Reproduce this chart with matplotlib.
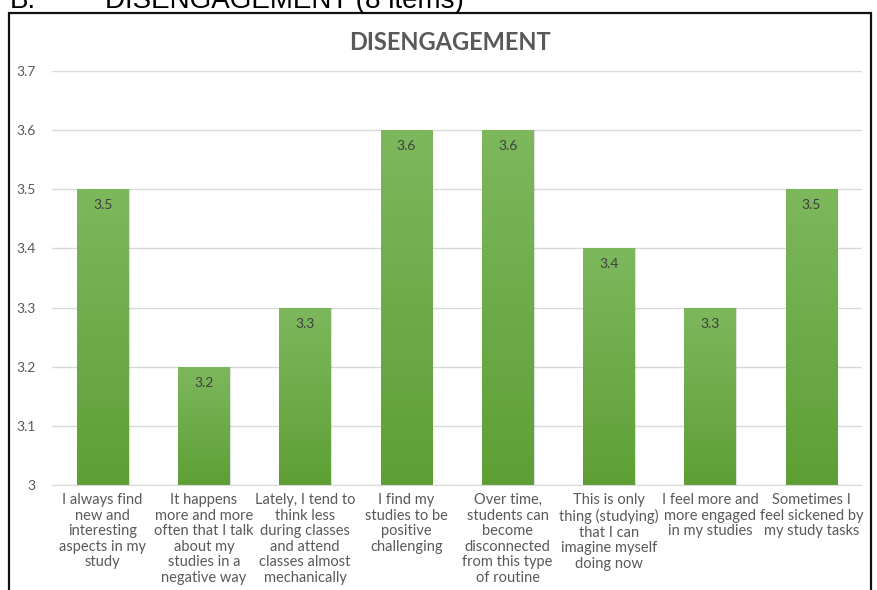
import numpy as np
import matplotlib
matplotlib.use("Agg")
import matplotlib.pyplot as plt
from matplotlib.colors import LinearSegmentedColormap
from matplotlib.patches import Rectangle

# data
categories = [
    "I always find\nnew and\ninteresting\naspects in my\nstudy",
    "It happens\nmore and more\noften that I talk\nabout my\nstudies in a\nnegative way",
    "Lately, I tend to\nthink less\nduring classes\nand attend\nclasses almost\nmechanically",
    "I find my\nstudies to be\npositive\nchallenging",
    "Over time,\nstudents can\nbecome\ndisconnected\nfrom this type\nof routine",
    "This is only\nthing (studying)\nthat I can\nimagine myself\ndoing now",
    "I feel more and\nmore engaged\nin my studies",
    "Sometimes I\nfeel sickened by\nmy study tasks",
]
values = [3.5, 3.2, 3.3, 3.6, 3.6, 3.4, 3.3, 3.5]
yticks = [3.0, 3.1, 3.2, 3.3, 3.4, 3.5, 3.6, 3.7]
ytick_labels = ["3", "3.1", "3.2", "3.3", "3.4", "3.5", "3.6", "3.7"]

plt.rcParams['font.family'] = ['Lato', 'DejaVu Sans']
grey = '#595959'

fig = plt.figure(figsize=(8.77, 5.90), dpi=100)
W, H = 877, 590

# frame round the chart
fig.patches.append(Rectangle((9 / W, -0.05), (871 - 9) / W, (H - 13) / H + 0.05,
                             transform=fig.transFigure, fill=False,
                             edgecolor='#111111', linewidth=1.6))
# header above the frame, cut by the top edge as in the source
fig.text(10 / W, 1 - 1 / H, "B.", fontsize=20, va='center', ha='left',
         color='black', family=['Liberation Sans', 'DejaVu Sans'])
fig.text(105 / W, 1 - 1 / H, "DISENGAGEMENT (8 items)", fontsize=20,
         va='center', ha='left', color='black',
         family=['Liberation Sans', 'DejaVu Sans'])

ax = fig.add_axes([52 / W, 1 - 485 / H, (862 - 52) / W, (485 - 71) / H])
ax.set_xlim(-0.5, len(values) - 0.5)
ax.set_ylim(3.0, 3.7)

cmap = LinearSegmentedColormap.from_list('g', ['#5e9f35', '#7db85d'])
grad = np.linspace(0, 1, 256).reshape(-1, 1)
bw = 0.51
x = np.arange(len(values))
bars = ax.bar(x, [v - 3.0 for v in values], bottom=3.0, width=bw, color='none',
              zorder=3)
for b, v in zip(bars, values):
    x0 = b.get_x()
    # soft shadow
    ax.add_patch(Rectangle((x0 + 0.012, 3.0), bw, v - 3.0, color='#000000',
                           alpha=0.12, zorder=2, linewidth=0))
    im = ax.imshow(grad, cmap=cmap, origin='lower', aspect='auto',
                   extent=(x0, x0 + bw, 3.0, v), zorder=3)
    im.set_clip_path(b)
    ax.text(x0 + bw / 2, v - 0.027, f"{v:.1f}", ha='center', va='center',
            fontsize=10, color='#404040', zorder=4)

ax.set_yticks(yticks)
ax.set_yticklabels(ytick_labels)
ax.set_xticks(x)
ax.set_xticklabels(categories, linespacing=1.14, va='top')
ax.tick_params(axis='y', length=0, pad=12, labelsize=10, labelcolor=grey)
ax.tick_params(axis='x', length=0, pad=6, labelsize=10.5, labelcolor=grey)
ax.grid(axis='y', color='#d9d9d9', linewidth=1, zorder=0)
ax.set_axisbelow(True)
for s in ['top', 'right', 'left']:
    ax.spines[s].set_visible(False)
ax.spines['bottom'].set_color('#d9d9d9')
ax.spines['bottom'].set_zorder(5)

fig.text(450 / W, 1 - 42 / H, "DISENGAGEMENT", ha='center', va='center',
         fontsize=17, fontweight='bold', color=grey)

fig.savefig('out.png', dpi=100)
